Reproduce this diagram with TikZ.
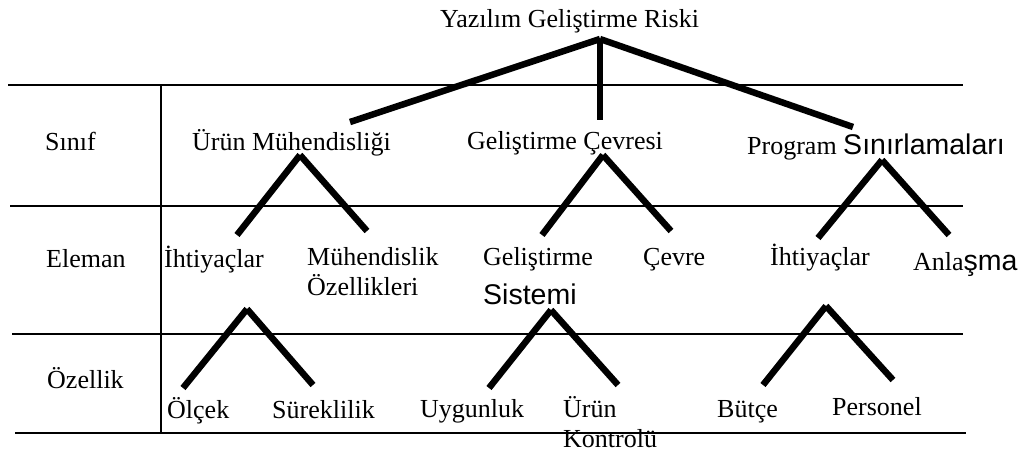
\documentclass[tikz,border=0pt]{standalone}
\usepackage{fontspec}
\setmainfont{Liberation Serif}
\newfontfamily\sansfont{Liberation Sans}
\newcommand{\sanspart}[1]{{\sansfont\fontsize{28.5}{32}\selectfont #1}}
\begin{document}
\begin{tikzpicture}[x=1pt,y=-1pt,
  rule/.style={line width=1.6pt},
  branch/.style={line width=6.5pt, line cap=butt},
  lbl/.style={anchor=base west, inner sep=0pt, font=\fontsize{26}{30}\selectfont},
]
\useasboundingbox[fill=white] (0,0) rectangle (1021,456);

% table rules
\draw[rule] (8,85) -- (963,85);
\draw[rule] (10,206) -- (963,206);
\draw[rule] (12,334) -- (963,334);
\draw[rule] (15,433) -- (966,433);
\draw[rule] (161,85) -- (161,433);

% row headings
\node[lbl] (sinif)   at (45,150) {Sınıf};
\node[lbl] (eleman)  at (46,267) {Eleman};
\node[lbl] (ozellik) at (47,388) {Özellik};

% root
\node[lbl] (root) at (440,27) {Yazılım Geliştirme Riski};

% class level
\node[lbl] (urunm)   at (192,150) {Ürün Mühendisliği};
\node[lbl] (gelcev)  at (467,149) {Geliştirme Çevresi};
\node[lbl] (progsin) at (747,154) {Program \sanspart{Sınırlamaları}};

% element level
\node[lbl] (ihti1)   at (164,267) {İhtiyaçlar};
\node[lbl] (muhoz1)  at (307,265) {Mühendislik};
\node[lbl] (muhoz2)  at (307,295) {Özellikleri};
\node[lbl] (gelsis1) at (483,265) {Geliştirme};
\node[lbl] (gelsis2) at (483,304) {\sanspart{Sistemi}};
\node[lbl] (cevre)   at (643,265) {Çevre};
\node[lbl] (ihti2)   at (770,265) {İhtiyaçlar};
\node[lbl] (anlasma) at (913,270) {Anla\sanspart{şma}};

% attribute level
\node[lbl] (olcek)   at (167,418) {Ölçek};
\node[lbl] (surek)   at (272,418) {Süreklilik};
\node[lbl] (uygun)   at (420,417) {Uygunluk};
\node[lbl] (urunk1)  at (563,417) {Ürün};
\node[lbl] (urunk2)  at (563,447) {Kontrolü};
\node[lbl] (butce)   at (717,417) {Bütçe};
\node[lbl] (person)  at (832,415) {Personel};

% branch points
\coordinate (t0) at (600,39);
\coordinate (t1) at (350,122);
\coordinate (t2) at (600,120);
\coordinate (t3) at (853,127);

\coordinate (ua) at (300,155);
\coordinate (ul) at (237,235);
\coordinate (ur) at (367,231);

\coordinate (ga) at (603,155);
\coordinate (gl) at (542,235);
\coordinate (gr) at (671,231);

\coordinate (pa) at (882,160);
\coordinate (pl) at (818,238);
\coordinate (pr) at (949,235);

\coordinate (ia) at (247,309);
\coordinate (il) at (183,388);
\coordinate (ir) at (313,385);

\coordinate (sa) at (551,310);
\coordinate (sl) at (489,388);
\coordinate (sr) at (618,385);

\coordinate (ba) at (826,306);
\coordinate (bl) at (763,385);
\coordinate (br) at (893,380);

% branches
\draw[branch] (t0) -- (t1);
\draw[branch] (t0) -- (t2);
\draw[branch] (t0) -- (t3);
\foreach \p in {u,g,p,i,s,b}{
  \draw[branch] (\p a) -- (\p l);
  \draw[branch] (\p a) -- (\p r);
}
\end{tikzpicture}
\end{document}
